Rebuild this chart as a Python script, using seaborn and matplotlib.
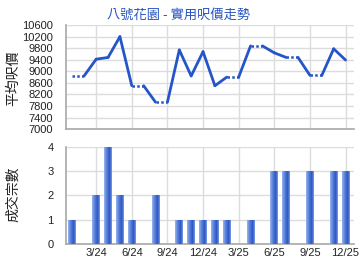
import numpy as np
import pandas as pd
import matplotlib
matplotlib.use("Agg")
import matplotlib.pyplot as plt
from matplotlib.colors import LinearSegmentedColormap
import seaborn as sns

# ---- data ----
months = ["1/24", "2/24", "3/24", "4/24", "5/24", "6/24", "7/24", "8/24", "9/24", "10/24", "11/24", "12/24",
          "1/25", "2/25", "3/25", "4/25", "5/25", "6/25", "7/25", "8/25", "9/25", "10/25", "11/25", "12/25"]
avg_price = [8850, None, 9420, 9480, 10200, 8500, None, 7930, None, 9740, 8840, 9680,
             8500, 8800, None, 9880, None, 9640, 9480, None, 8860, None, 9780, 9390]
deals = [1, 0, 2, 4, 2, 1, 0, 2, 0, 1, 1, 1,
         1, 1, 0, 1, 0, 3, 3, 0, 3, 0, 3, 3]
tick_labels = ["3/24", "6/24", "9/24", "12/24", "3/25", "6/25", "9/25", "12/25"]
title = "八號花園 - 實用呎價走勢"
price_label = "平均呎價"
deal_label = "成交宗數"
price_ticks = list(range(7000, 10601, 400))
deal_ticks = [0, 1, 2, 3, 4]

sns.set_theme(style="white")
plt.rcParams['font.family'] = ['Liberation Sans', 'Noto Sans CJK TC', 'DejaVu Sans']

line_color = "#2456c8"
grid_color = "#dcdcdc"
spine_color = "#a8a8a8"

pos = np.arange(len(months))
price = pd.Series(avg_price, dtype=float)
filled = price.ffill()

# segments: dotted when next month has no data (value carried), solid otherwise
rows = []
for i in range(len(months) - 1):
    kind = "dot" if np.isnan(price[i + 1]) else "solid"
    rows.append({"x": pos[i], "y": filled[i], "seg": i, "kind": kind})
    rows.append({"x": pos[i + 1], "y": filled[i + 1], "seg": i, "kind": kind})
seg_df = pd.DataFrame(rows)

bar_df = pd.DataFrame({"pos": pos, "deals": deals})
bar_df = bar_df[bar_df["deals"] > 0]

fig = plt.figure(figsize=(3.6, 2.7), dpi=100)
ax1 = fig.add_axes([0.183, 0.522, 0.800, 0.385])
ax2 = fig.add_axes([0.183, 0.096, 0.800, 0.360])

tick_pos = [months.index(t) for t in tick_labels]
xlim = (-0.55, 23.7)

# top: line
sns.lineplot(data=seg_df[seg_df.kind == "solid"], x="x", y="y", units="seg", estimator=None,
             color=line_color, lw=2, ax=ax1, legend=False)
sns.lineplot(data=seg_df[seg_df.kind == "dot"], x="x", y="y", units="seg", estimator=None,
             color=line_color, lw=1.8, ax=ax1, legend=False, linestyle=(0, (1, 0.9)))
ax1.set_xlim(*xlim)
ax1.set_ylim(7000, 10600)
ax1.set_yticks(price_ticks)
ax1.set_xticks(tick_pos)
ax1.set_xticklabels([])
ax1.set_xlabel("")
ax1.set_ylabel("")

# bottom: bars
sns.barplot(data=bar_df, x="pos", y="deals", native_scale=True, width=0.66,
            color="#4a76d4", edgecolor="none", linewidth=0, saturation=1, ax=ax2, zorder=3)
ax2.set_xlim(*xlim)
ax2.set_ylim(0, 4)

# horizontal gradient on each bar (glossy look)
cmap = LinearSegmentedColormap.from_list(
    "bar", [(0.0, "#9ab4ee"), (0.3, "#5f87de"), (0.72, "#2a55c2"), (1.0, "#7d9de6")])
grad = np.linspace(0, 1, 64).reshape(1, -1)
for p in list(ax2.patches):
    x0, y0 = p.get_x(), p.get_y()
    w, h = p.get_width(), p.get_height()
    im = ax2.imshow(grad, cmap=cmap, aspect="auto", extent=(x0, x0 + w, y0, y0 + h),
                    zorder=4, interpolation="bilinear")
    im.set_clip_path(p)
ax2.set_xlim(*xlim)
ax2.set_ylim(0, 4)
ax2.set_yticks(deal_ticks)
ax2.set_xticks(tick_pos)
ax2.set_xticklabels(tick_labels)
ax2.set_xlabel("")
ax2.set_ylabel("")

for ax in (ax1, ax2):
    ax.grid(True, color=grid_color, lw=1)
    ax.set_axisbelow(True)
    for s in ("top", "right"):
        ax.spines[s].set_visible(False)
    for s in ("left", "bottom"):
        ax.spines[s].set_color(spine_color)
        ax.spines[s].set_linewidth(1.2)
    ax.tick_params(axis="both", length=0, labelsize=8, colors="#222222")
    ax.tick_params(axis="y", pad=9)
    ax.tick_params(axis="x", pad=3)

fig.text(0.497, 0.944, title, ha="center", va="center", fontsize=9.5, color="#2a55c0",
         family=['Noto Sans CJK TC', 'DejaVu Sans'])
fig.text(0.036, 0.71, price_label, rotation=90, ha="center", va="center", fontsize=10,
         color="#222222", family=['Noto Sans CJK TC', 'DejaVu Sans'])
fig.text(0.036, 0.28, deal_label, rotation=90, ha="center", va="center", fontsize=10,
         color="#222222", family=['Noto Sans CJK TC', 'DejaVu Sans'])

fig.savefig("out.png", dpi=100, facecolor="white")
